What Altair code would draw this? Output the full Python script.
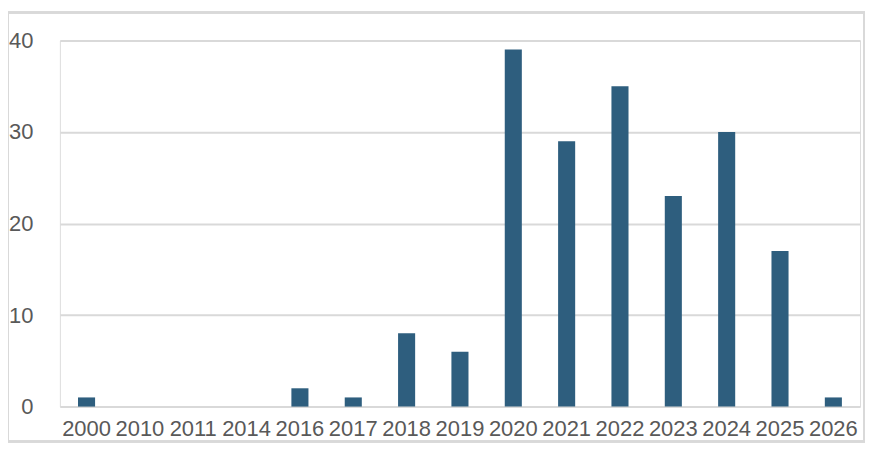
import altair as alt
import pandas as pd

years = ["2000", "2010", "2011", "2014", "2016", "2017", "2018", "2019",
         "2020", "2021", "2022", "2023", "2024", "2025", "2026"]
counts = [1, 0, 0, 0, 2, 1, 8, 6, 39, 29, 35, 23, 30, 17, 1]
y_ticks = [0, 10, 20, 30, 40]

df = pd.DataFrame({"year": years, "count": counts})

W, H = 802, 367
FONT = "Liberation Sans"
TXT = "#595959"

bars = alt.Chart(df).mark_bar(color="#2e5e7e").encode(
    x=alt.X("year:N", sort=years,
            scale=alt.Scale(paddingInner=0.68, paddingOuter=0.34),
            axis=alt.Axis(title=None, labelAngle=0, labelFont=FONT, labelFontSize=22,
                          labelColor=TXT, ticks=False, domain=False, labelPadding=12,
                          grid=False)),
    y=alt.Y("count:Q", scale=alt.Scale(domain=[0, 40], nice=False),
            axis=alt.Axis(title=None, values=y_ticks, labelFont=FONT, labelFontSize=22,
                          labelColor=TXT, ticks=False, domain=False, labelPadding=27,
                          grid=True, gridColor="#d9d9d9", gridWidth=2)),
)

frame = alt.Chart(df).mark_rect(fill=None, stroke="#d9d9d9", strokeWidth=2, clip=False).encode(
    x=alt.value(-52), x2=alt.value(W + 4), y=alt.value(-28), y2=alt.value(H + 35)
)

chart = alt.layer(frame, bars).properties(
    width=W, height=H,
    autosize=alt.AutoSizeParams(type="none"),
    padding={"left": 52, "top": 32, "right": 10, "bottom": 45},
).configure_view(stroke=None).configure(background="white")

chart.save("out.html", embed_options={"renderer": "svg", "actions": False})
